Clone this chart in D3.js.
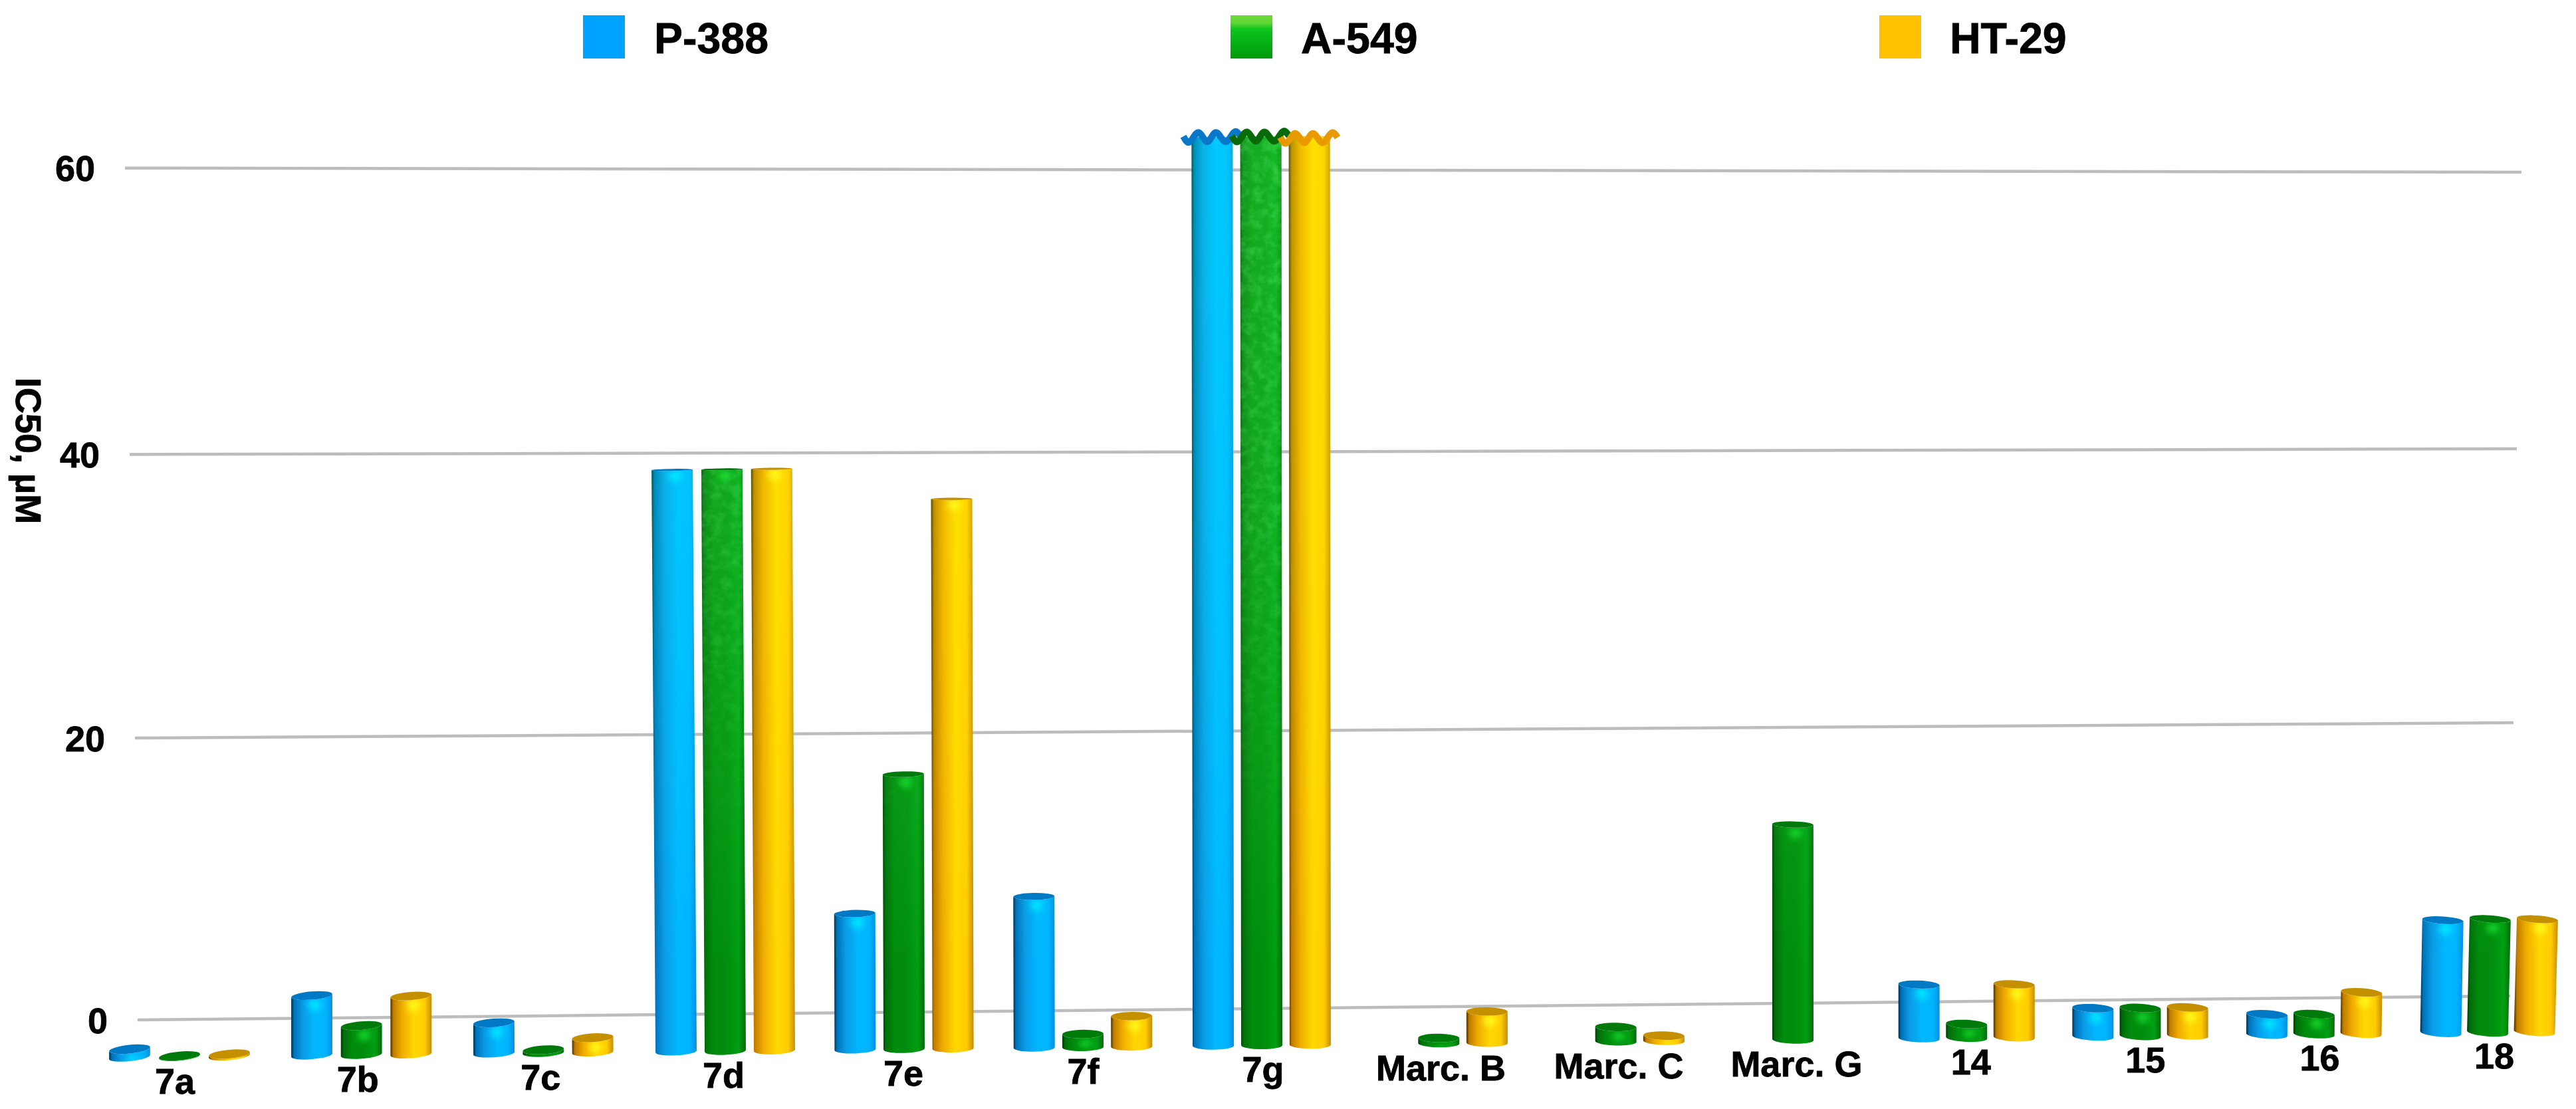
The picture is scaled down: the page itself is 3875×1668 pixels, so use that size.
<!DOCTYPE html>
<html>
<head>
<meta charset="utf-8">
<style>
html,body{margin:0;padding:0;background:#fff}
svg{display:block}
text{font-family:"Liberation Sans",Arial,sans-serif;font-weight:700;fill:#000;stroke:#000;stroke-width:.8}
</style>
<script src="https://cdnjs.cloudflare.com/ajax/libs/d3/7.8.5/d3.min.js"></script>
</head>
<body>
<svg id="chart" width="3875" height="1668"></svg>
<script>
// ---- data ----
const categories = ["7a","7b","7c","7d","7e","7f","7g","Marc. B","Marc. C","Marc. G","14","15","16","18"];
const seriesNames = ["P-388","A-549","HT-29"];
const p388 = [0.55,4.1,2.1,40,9.35,10.4,62.5,null,null,null,3.7,1.95,1.4,7.75];
const a549 = [0.05,2.0,0.2,40,18.9,0.9,62.5,0.37,1.0,14.8,0.95,1.93,1.38,7.8];
const ht29 = [0.14,4.0,1.0,40,37.8,2.1,62.5,2.16,0.37,null,3.65,1.93,2.85,7.75];
const yTicks = [0,20,40,60];
const yTitle = "IC50, µM";
const brokenCategory = "7g";
const seriesValues = [p388,a549,ht29];

// ---- scales (the picture is a perspective view) ----
const H = d3.scaleLinear().domain([0,60]).range([0,1312]);
const catX = d3.scaleLinear().domain([0,3,6,9,13]).range([270,1091,1898,2697,3742]);
const barOffset = d3.scaleLinear().domain([0,13]).range([75,70.5]);
const floorY = d3.scaleLinear().domain([194,3812]).range([1596,1558]);
const wallLeftX = d3.scaleLinear().domain(yTicks).range([207,203,195,188]);
const wallRightX = d3.scaleLinear().domain(yTicks).range([3776,3781,3786,3793]);
const wallLeftY = d3.scaleLinear().domain(yTicks).range([1534,1110,683.5,252.7]);
const wallRightY = d3.scaleLinear().domain(yTicks).range([1498,1087,675,259]);
const tilt = d3.scaleLinear().domain([160,1898,3844]).range([-6,0,5]);
const capRy = d3.scaleLinear().domain([700,1380,1570]).range([1.5,5.5,6.5]).clamp(true);
const lean = d3.scaleLinear().domain([600,1000,1300,1900,3300,3844]).range([0,-0.007,-0.003,-0.001,0,0.028]).clamp(true);
const labelDx = d3.scaleLinear().domain([0,6,13]).range([-7,2,10]);
const labelY = d3.scaleLinear().domain([0,13]).range([1645,1607]);
const barWidth = 62, bottomRy = 6;

const colors = [
  {id:"blue", cap:"#0079c4", wave:"#0a78c8", stops:["#002f4e","#0072b8","#0a9be6","#00b8ff","#00b4ff","#0090e0"],
   glow:"#00f0ff", lift:"rgb(0,60,10)", swatch:[["#00a2ff",0],["#00a2ff",1]]},
  {id:"green",cap:"#007a0a", wave:"#086a08", stops:["#003c06","#006e0a","#008c0c","#008e0e","#009e12","#006a0a"],
   glow:"#18e030", lift:"rgb(20,70,22)", swatch:[["#70d83c",0],["#5ed634",.18],["#0cc41c",.32],["#009a0a",1]]},
  {id:"yellow",cap:"#c49000",wave:"#e89a00", stops:["#4a3000","#c07c00","#f0ac00","#ffd800","#ffcc00","#c88c00"],
   glow:"#ffff20", lift:"rgb(0,50,0)", swatch:[["#ffc000",0],["#ffc000",1]]}
];

const svg = d3.select("#chart");
svg.append("rect").attr("width",3875).attr("height",1668).attr("fill","#fff");
const defs = svg.append("defs");

colors.forEach(c=>{
  const g = defs.append("linearGradient").attr("id","body-"+c.id).attr("x1",0).attr("x2",1).attr("y1",0).attr("y2",0);
  [0,.07,.28,.58,.84,1].forEach((o,i)=>g.append("stop").attr("offset",o).attr("stop-color",c.stops[i]));
  const l = defs.append("linearGradient").attr("id","lift-"+c.id).attr("gradientUnits","userSpaceOnUse")
    .attr("x1",0).attr("x2",0).attr("y1",200).attr("y2",1450);
  l.append("stop").attr("offset",0).attr("stop-color",c.lift);
  l.append("stop").attr("offset",.45).attr("stop-color",c.lift).attr("stop-opacity",.8);
  l.append("stop").attr("offset",1).attr("stop-color","#000");
  const s = defs.append("linearGradient").attr("id","swatch-"+c.id).attr("x1",0).attr("x2",0).attr("y1",0).attr("y2",1);
  c.swatch.forEach(d=>s.append("stop").attr("offset",d[1]).attr("stop-color",d[0]));
});
defs.append("filter").attr("id","soft").attr("x","-50%").attr("y","-100%").attr("width","200%").attr("height","300%")
  .append("feGaussianBlur").attr("stdDeviation",5);
const noise = defs.append("filter").attr("id","mottle").attr("x",0).attr("y",0).attr("width","100%").attr("height","100%");
noise.append("feTurbulence").attr("type","fractalNoise").attr("baseFrequency",.07).attr("numOctaves",3).attr("seed",4).attr("result","n");
noise.append("feColorMatrix").attr("in","n").attr("type","matrix")
  .attr("values","0 0 0 0 .1  0 0 0 0 .85  0 0 0 0 .15  0 0 .9 0 -.36").attr("result","m");
noise.append("feComposite").attr("in","m").attr("in2","SourceGraphic").attr("operator","in");
const fade = defs.append("linearGradient").attr("id","noise-fade").attr("gradientUnits","userSpaceOnUse")
  .attr("x1",0).attr("x2",0).attr("y1",200).attr("y2",1300);
fade.append("stop").attr("offset",0).attr("stop-color","#fff").attr("stop-opacity",1);
fade.append("stop").attr("offset",.5).attr("stop-color","#fff").attr("stop-opacity",.7);
fade.append("stop").attr("offset",1).attr("stop-color","#fff").attr("stop-opacity",0);

// ---- gridlines and y labels ----
const grid = svg.append("g");
grid.selectAll("line").data(yTicks).join("line")
  .attr("x1",wallLeftX).attr("y1",wallLeftY)
  .attr("x2",wallRightX).attr("y2",wallRightY)
  .attr("stroke","#bdbdbd").attr("stroke-width",4.5);
svg.append("g").selectAll("text").data(yTicks).join("text")
  .attr("x",d=>wallLeftX(d)-45).attr("y",d=>wallLeftY(d)+19.5)
  .attr("text-anchor","end").attr("font-size",54).text(d=>d);
svg.append("text").attr("transform","translate(24,568) rotate(90)")
  .attr("font-size",54).text(yTitle);

// ---- bars ----
const bars = [];
categories.forEach((cat,i)=>{
  seriesValues.forEach((vals,s)=>{
    if(vals[i]==null) return;
    bars.push({cat,i,s,v:vals[i],cx:catX(i)+(s-1)*barOffset(i)});
  });
});
const barG = svg.append("g");
bars.forEach(b=>{
  const c = colors[b.s], rx = barWidth/2;
  const deg = tilt(b.cx), a = deg*Math.PI/180;
  const broken = b.cat===brokenCategory;
  const botY = floorY(b.cx)-bottomRy;
  const topY = botY-H(b.v);
  const ry = capRy(topY);
  const topDeg = deg*ry/6.5, ta = topDeg*Math.PI/180;
  const dx = lean(b.cx)*H(b.v);
  const ex = rx*Math.cos(a), ey = rx*Math.sin(a);
  const tx = rx*Math.cos(ta), ty = rx*Math.sin(ta);
  const L = [b.cx-ex, botY-ey], R = [b.cx+ex, botY+ey];
  const TL = [b.cx+dx-tx, topY-(broken?0:ty)], TR = [b.cx+dx+tx, topY+(broken?0:ty)];
  const d = `M${TL}L${L}A${rx},${bottomRy} ${deg} 0 0 ${R}L${TR}`+
    (broken?"Z":`A${rx},${ry} ${topDeg} 0 1 ${TL}Z`);
  const g = barG.append("g");
  g.append("path").attr("d",d).attr("fill",`url(#body-${c.id})`);
  g.append("path").attr("d",d).attr("fill",`url(#lift-${c.id})`).style("mix-blend-mode","screen");
  if(c.id==="green" && H(b.v)>200)
    g.append("path").attr("d",d).attr("fill","url(#noise-fade)").attr("filter","url(#mottle)");
  const clip = "clip-"+b.i+"-"+b.s;
  defs.append("clipPath").attr("id",clip).append("path").attr("d",d);
  if(H(b.v)>8 && !broken){
    g.append("g").attr("clip-path",`url(#${clip})`).append("ellipse")
      .attr("cx",b.cx+dx+4).attr("cy",topY+ry+8).attr("rx",10).attr("ry",Math.min(9,H(b.v)/3))
      .attr("fill",c.glow).attr("opacity",.75).attr("filter","url(#soft)");
  }
  if(!broken){
    g.append("ellipse").attr("cx",b.cx+dx).attr("cy",topY).attr("rx",rx).attr("ry",ry)
      .attr("transform",`rotate(${topDeg} ${b.cx+dx} ${topY})`).attr("fill",c.cap);
  } else {
    const wave = d3.line().curve(d3.curveNatural);
    const shift = b.s===2?3:0;
    const steps = [-45,-35,-22,-9,4,18,31,41];
    const ys = [-1,7,-7,7,-7,7,-7,-1];
    g.append("path").attr("d",wave(steps.map((q,k)=>[b.cx+q,topY+shift+ys[k]])))
      .attr("fill","none").attr("stroke",c.wave).attr("stroke-width",10).attr("stroke-linecap","butt");
  }
});

// ---- category labels ----
svg.append("g").selectAll("text").data(categories).join("text")
  .attr("x",(d,i)=>catX(i)+labelDx(i)).attr("y",(d,i)=>labelY(i))
  .attr("text-anchor","middle").attr("font-size",54).text(d=>d);

// ---- legend ----
const legendSwatchX = [877,1851,2827];
const legendTextX = [984,1957,2933];
const legend = svg.append("g");
seriesNames.forEach((n,i)=>{
  legend.append("rect").attr("x",legendSwatchX[i]).attr("y",23).attr("width",63).attr("height",65)
    .attr("fill",`url(#swatch-${colors[i].id})`);
  legend.append("text").attr("x",legendTextX[i]).attr("y",80).attr("font-size",64.5).text(n);
});
</script>
</body>
</html>
